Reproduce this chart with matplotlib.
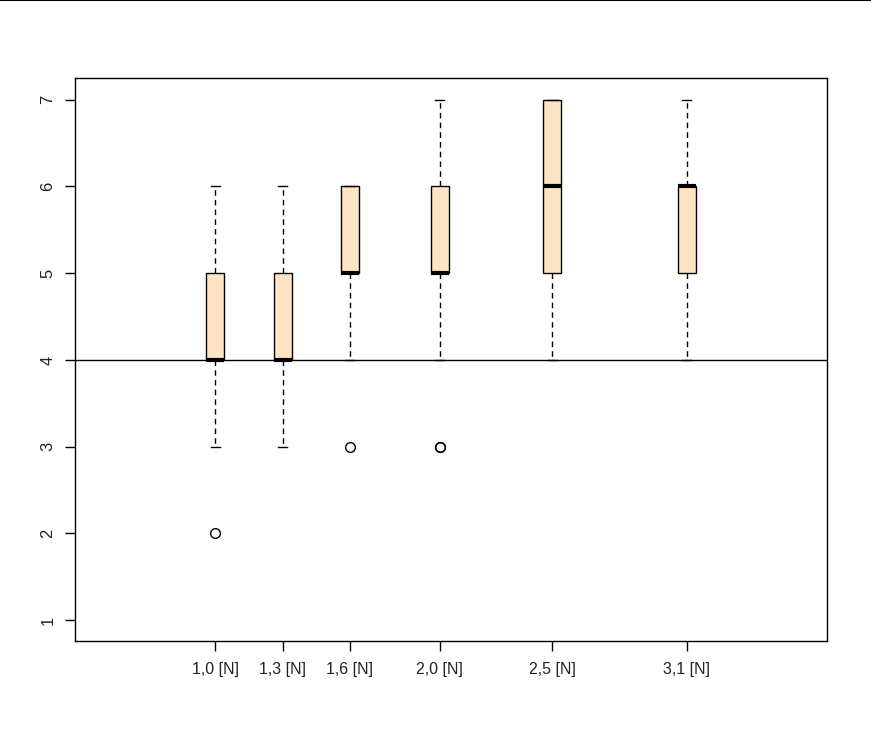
import matplotlib
matplotlib.use('Agg')
import matplotlib.pyplot as plt
from matplotlib.lines import Line2D

plt.rcParams['font.family'] = ['Liberation Sans', 'DejaVu Sans']

positions = [1.0, 1.3, 1.6, 2.0, 2.5, 3.1]
labels = ['1,0 [N]', '1,3 [N]', '1,6 [N]', '2,0 [N]', '2,5 [N]', '3,1 [N]']
whislo = [3, 3, 4, 4, 4, 4]
q1 = [4, 4, 5, 5, 5, 5]
med = [4, 4, 5, 5, 6, 6]
q3 = [5, 5, 6, 6, 7, 6]
whishi = [6, 6, 6, 7, 7, 7]
fliers = [[2], [], [3], [3, 3], [], []]
ref_line = 4

stats = []
for i in range(len(positions)):
    stats.append(dict(med=med[i], q1=q1[i], q3=q3[i],
                      whislo=whislo[i], whishi=whishi[i], fliers=fliers[i]))

fig = plt.figure(figsize=(8.71, 7.4), dpi=100)
ax = fig.add_axes([75 / 871, 99 / 740, 752 / 871, 563 / 740])

ax.bxp(stats, positions=positions, widths=0.08, capwidths=0.04,
       patch_artist=True, manage_ticks=False,
       boxprops=dict(facecolor='#FFE4C4', edgecolor='black', linewidth=1),
       whiskerprops=dict(color='black', linewidth=1, linestyle=(0, (4, 3))),
       capprops=dict(color='black', linewidth=1),
       medianprops=dict(color='black', linewidth=3, solid_capstyle='butt'),
       flierprops=dict(marker='o', markerfacecolor='none',
                       markeredgecolor='black', markersize=7, markeredgewidth=1))

ax.axhline(ref_line, color='black', linewidth=1, zorder=0.5)

ax.set_xlim(0.376, 3.724)
ax.set_ylim(0.76, 7.25)
ax.set_xticks(positions)
ax.set_xticklabels(labels)
ax.set_yticks(range(1, 8))
ax.set_yticklabels([str(v) for v in range(1, 8)], rotation=90, va='center')
ax.tick_params(axis='both', direction='out', length=7, width=1,
               labelsize=12, labelcolor='#222222', pad=7)
ax.tick_params(axis='x', pad=8, labelsize=11.5)
for s in ax.spines.values():
    s.set_linewidth(1)

fig.add_artist(Line2D([0, 1], [0.9995, 0.9995], color='black', linewidth=1.5))

fig.savefig('out.png', dpi=100)
